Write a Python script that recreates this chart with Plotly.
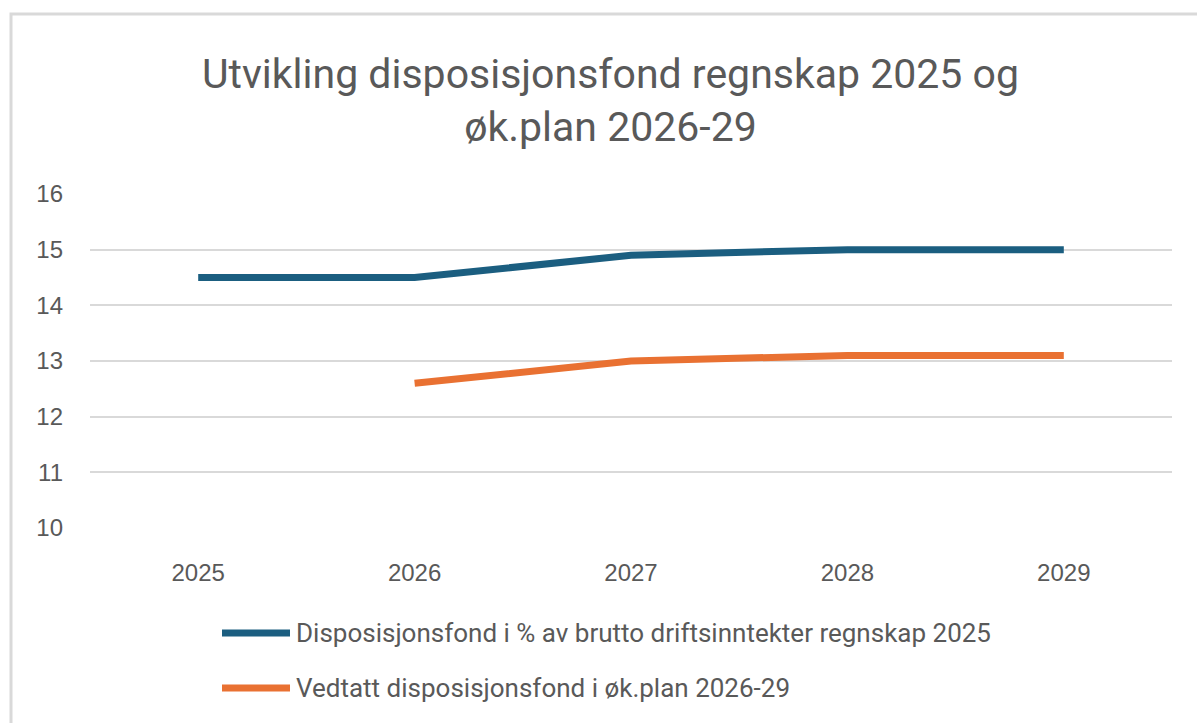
import plotly.graph_objects as go

# data
years = ["2025", "2026", "2027", "2028", "2029"]
regnskap = [14.5, 14.5, 14.9, 15.0, 15.0]
okplan = [None, 12.6, 13.0, 13.1, 13.1]
series_names = [
    "Disposisjonsfond i % av brutto driftsinntekter regnskap 2025",
    "Vedtatt disposisjonsfond i øk.plan 2026-29",
]
y_ticks = [10, 11, 12, 13, 14, 15, 16]

blue = "#1B5E80"
orange = "#E97132"
grey_text = "#595959"
grid = "#D9D9D9"

fig = go.Figure()
for vals, name, col in [(regnskap, series_names[0], blue), (okplan, series_names[1], orange)]:
    fig.add_trace(go.Scatter(
        x=years, y=vals, mode="lines", name=name,
        line=dict(color=col, width=7), showlegend=False,
    ))

# plot area in pixels: x 90..1172, y 194..528
L, R, T, B = 90, 25, 194, 195
W, H = 1197, 723
pw, ph = W - L - R, H - T - B

def px(x):
    return (x - L) / pw

def py(y):
    return (H - B - y) / ph

shapes = [
    # outer chart border (cut off on right and bottom like the screenshot)
    dict(type="rect", xref="paper", yref="paper",
         x0=px(11), x1=px(1215), y0=py(740), y1=py(14),
         line=dict(color="#D9D9D9", width=3), fillcolor="rgba(0,0,0,0)", layer="below"),
]
annotations = []
# manual legend with long line samples
for i, (name, col) in enumerate(zip(series_names, [blue, orange])):
    ly = 633 + i * 55
    shapes.append(dict(type="line", xref="paper", yref="paper",
                       x0=px(222), x1=px(290), y0=py(ly), y1=py(ly),
                       line=dict(color=col, width=7)))
    annotations.append(dict(xref="paper", yref="paper", x=px(294), y=py(ly),
                            text=name, showarrow=False, xanchor="left", yanchor="middle",
                            font=dict(family="Roboto", size=26, color=grey_text)))

fig.update_layout(
    width=W, height=H,
    margin=dict(l=L, r=R, t=T, b=B),
    paper_bgcolor="white", plot_bgcolor="white",
    title=dict(
        text="Utvikling disposisjonsfond regnskap 2025 og<br>øk.plan 2026-29",
        x=0.51, xanchor="center", y=1 - 88 / H, yanchor="middle",
        font=dict(family="Roboto", size=41, color=grey_text),
    ),
    shapes=shapes,
    annotations=annotations,
    xaxis=dict(
        type="category", range=[-0.5, 4.5], showgrid=False, zeroline=False, showline=False,
        ticks="", ticklabelstandoff=28,
        tickfont=dict(family="Liberation Sans", size=24, color=grey_text),
    ),
    yaxis=dict(
        range=[10, 16], tickvals=y_ticks, showgrid=True, gridcolor=grid, gridwidth=2,
        zeroline=False, showline=False, ticks="", ticklabelstandoff=26,
        tickfont=dict(family="Liberation Sans", size=24, color=grey_text),
        fixedrange=True,
    ),
)

fig.write_html("out.html", config={"displayModeBar": False},
               post_script="document.body.style.margin='0';")
